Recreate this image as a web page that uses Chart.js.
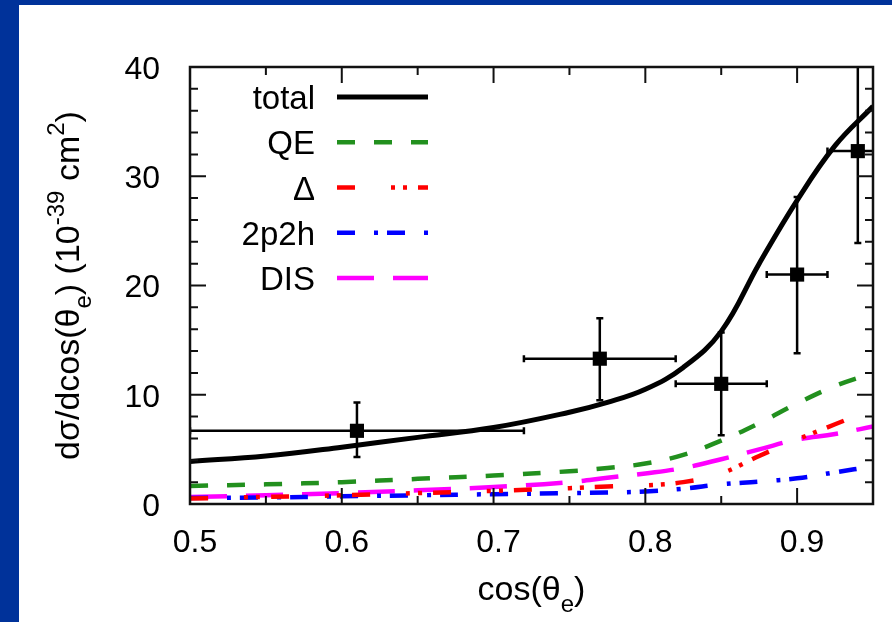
<!DOCTYPE html>
<html>
<head>
<meta charset="utf-8">
<script src="https://cdn.jsdelivr.net/npm/chart.js@4.4.1/dist/chart.umd.min.js"></script>
<style>
  html, body { margin: 0; padding: 0; }
  body { width: 892px; height: 622px; background: #00329a; position: relative; overflow: hidden; }
  .panel { position: absolute; left: 19px; top: 5px; right: 0; bottom: 0; background: #fff; }
  .chart-container { position: absolute; left: 0; top: 0; width: 892px; height: 622px; }
</style>
</head>
<body>
<div class="panel"></div>
<div class="chart-container"><canvas id="chart"></canvas></div>
<script>
const FONT = '"Liberation Sans", Arial, Helvetica, sans-serif';

// model curves, sampled in cos(theta_e)
const cosTheta = [0.5, 0.55, 0.6, 0.65, 0.7, 0.75, 0.775, 0.8, 0.825, 0.85, 0.875, 0.9, 0.925, 0.95];
const total    = [3.9, 4.4, 5.2, 6.1, 7.0, 8.4, 9.3, 10.5, 12.5, 15.8, 22.0, 27.8, 32.8, 36.4];
const qe       = [1.65, 1.8, 2.0, 2.3, 2.6, 3.0, 3.3, 3.7, 4.5, 5.8, 7.4, 9.2, 10.8, 12.0];
const delta    = [0.5, 0.65, 0.8, 1.0, 1.2, 1.45, 1.6, 1.7, 2.0, 2.8, 4.4, 5.9, 7.3, 8.7];
const twoP2h   = [0.55, 0.6, 0.7, 0.8, 0.9, 1.0, 1.05, 1.15, 1.4, 1.8, 2.05, 2.35, 2.9, 3.45];
const dis      = [0.65, 0.8, 1.0, 1.25, 1.55, 2.0, 2.4, 2.8, 3.3, 4.1, 5.0, 5.9, 6.4, 7.1];

// measured points with x/y error ranges
const dataX     = [0.61, 0.77, 0.85, 0.90, 0.94];
const dataY     = [6.7, 13.3, 11.0, 21.0, 32.3];
const dataXLow  = [0.50, 0.72, 0.82, 0.88, 0.92];
const dataXHigh = [0.72, 0.82, 0.88, 0.92, 0.96];
const dataYLow  = [4.3, 9.5, 6.3, 13.8, 23.9];
const dataYHigh = [9.3, 17.0, 15.7, 28.1, 41.0];

// axis ticks
const xTicks = [0.5, 0.6, 0.7, 0.8, 0.9];
const yTicks = [0, 10, 20, 30, 40];
const xMinorStep = 0.05;
const yMinorStep = 2;

const toXY = arr => cosTheta.map((x, i) => ({ x: x, y: arr[i] }));

function curve(label, values, color, width, dash) {
  return {
    label: label,
    data: toXY(values),
    borderColor: color,
    backgroundColor: color,
    borderWidth: width,
    borderDash: dash,
    borderCapStyle: 'butt',
    pointRadius: 0,
    tension: 0.4,
    clip: 0,
    fill: false
  };
}

// error bars under the square markers
const errorBars = {
  id: 'errorBars',
  beforeDatasetsDraw(chart) {
    const { ctx, chartArea: a, scales: { x, y } } = chart;
    const cap = 3.5;
    ctx.save();
    ctx.beginPath();
    ctx.rect(a.left, a.top, a.right - a.left, a.bottom - a.top);
    ctx.clip();
    ctx.strokeStyle = '#000';
    ctx.lineWidth = 2.5;
    dataX.forEach((v, i) => {
      const px = x.getPixelForValue(v);
      const py = y.getPixelForValue(dataY[i]);
      const x0 = x.getPixelForValue(dataXLow[i]);
      const x1 = x.getPixelForValue(dataXHigh[i]);
      const y0 = y.getPixelForValue(dataYLow[i]);
      const y1 = y.getPixelForValue(dataYHigh[i]);
      ctx.beginPath();
      ctx.moveTo(x0, py); ctx.lineTo(x1, py);
      ctx.moveTo(px, y0); ctx.lineTo(px, y1);
      ctx.moveTo(x0, py - cap); ctx.lineTo(x0, py + cap);
      ctx.moveTo(x1, py - cap); ctx.lineTo(x1, py + cap);
      ctx.moveTo(px - cap, y0); ctx.lineTo(px + cap, y0);
      ctx.moveTo(px - cap, y1); ctx.lineTo(px + cap, y1);
      ctx.stroke();
    });
    ctx.restore();
  }
};

// key in the upper left: label on the left, line sample on the right
const keyBox = {
  id: 'keyBox',
  afterDatasetsDraw(chart) {
    const { ctx, chartArea: a } = chart;
    ctx.save();
    ctx.font = '33px ' + FONT;
    ctx.textAlign = 'right';
    ctx.textBaseline = 'alphabetic';
    ctx.fillStyle = '#000';
    let row = 0;
    chart.data.datasets.forEach(ds => {
      if (ds.type === 'scatter') return;
      const yRow = a.top + 30 + row * 45.25;
      ctx.fillText(ds.label, a.left + 125, yRow + 12);
      ctx.strokeStyle = ds.borderColor;
      ctx.lineWidth = ds.borderWidth;
      ctx.setLineDash(ds.borderDash || []);
      ctx.lineCap = 'butt';
      ctx.beginPath();
      ctx.moveTo(a.left + 147, yRow);
      ctx.lineTo(a.left + 238, yRow);
      ctx.stroke();
      row++;
    });
    ctx.restore();
  }
};

// text with sub/superscripts, centred on cx
function drawRich(ctx, parts, cx, baseY, size) {
  const fontOf = p => (p.k ? Math.round(size * 0.7) : size) + 'px ' + FONT;
  let w = 0;
  parts.forEach(p => { ctx.font = fontOf(p); w += ctx.measureText(p.t).width; });
  let x = cx - w / 2;
  ctx.textAlign = 'left';
  ctx.textBaseline = 'alphabetic';
  parts.forEach(p => {
    ctx.font = fontOf(p);
    const dy = p.k === 'sub' ? size * 0.35 : p.k === 'sup' ? -size * 0.45 : 0;
    ctx.fillText(p.t, x, baseY + dy);
    x += ctx.measureText(p.t).width;
  });
}

// boxed frame with inward ticks on all sides, plus axis titles
const frame = {
  id: 'frame',
  afterDraw(chart) {
    const { ctx, chartArea: a, scales: { x, y } } = chart;
    ctx.save();
    ctx.strokeStyle = '#111';
    ctx.lineWidth = 2;
    ctx.beginPath();
    for (let v = x.min; v <= x.max + 1e-9; v += xMinorStep) {
      const major = xTicks.some(t => Math.abs(t - v) < 1e-6);
      const len = major ? 16 : 8;
      const px = x.getPixelForValue(v);
      ctx.moveTo(px, a.bottom); ctx.lineTo(px, a.bottom - len);
      ctx.moveTo(px, a.top); ctx.lineTo(px, a.top + len);
    }
    for (let v = y.min; v <= y.max + 1e-9; v += yMinorStep) {
      const major = yTicks.includes(v);
      const len = major ? 16 : 8;
      const py = y.getPixelForValue(v);
      ctx.moveTo(a.left, py); ctx.lineTo(a.left + len, py);
      ctx.moveTo(a.right, py); ctx.lineTo(a.right - len, py);
    }
    ctx.stroke();
    ctx.lineWidth = 2.5;
    ctx.strokeRect(a.left, a.top, a.right - a.left, a.bottom - a.top);

    ctx.fillStyle = '#000';
    drawRich(ctx, [{ t: 'cos(θ' }, { t: 'e', k: 'sub' }, { t: ')' }],
      (a.left + a.right) / 2, 600, 34);

    ctx.translate(79, (a.top + a.bottom) / 2);
    ctx.rotate(-Math.PI / 2);
    drawRich(ctx, [
      { t: 'dσ/dcos(θ' }, { t: 'e', k: 'sub' }, { t: ') (10' },
      { t: '-39', k: 'sup' }, { t: ' cm' }, { t: '2', k: 'sup' }, { t: ')' }
    ], 0, 0, 34);
    ctx.restore();
  }
};

const ctx = document.getElementById('chart').getContext('2d');

new Chart(ctx, {
  type: 'line',
  data: {
    datasets: [
      curve('total', total, '#000000', 5, []),
      curve('QE', qe, '#22901e', 4.5, [18, 19]),
      curve('Δ', delta, '#ff0000', 4.5, [18, 36, 4, 8, 4, 11]),
      curve('2p2h', twoP2h, '#0000ff', 4.5, [18, 19, 4, 9]),
      curve('DIS', dis, '#ff00ff', 4.5, [37, 19]),
      {
        type: 'scatter',
        label: 'data',
        data: dataX.map((x, i) => ({ x: x, y: dataY[i] })),
        pointStyle: 'rect',
        pointRadius: 10,
        pointBackgroundColor: '#000',
        pointBorderColor: '#000',
        pointBorderWidth: 0,
        clip: 0
      }
    ]
  },
  options: {
    responsive: true,
    maintainAspectRatio: false,
    animation: false,
    events: [],
    layout: { padding: { left: 0, top: 67, right: 19, bottom: 0 } },
    plugins: {
      legend: { display: false },
      tooltip: { enabled: false }
    },
    scales: {
      x: {
        type: 'linear',
        min: 0.5,
        max: 0.95,
        grid: { display: false },
        border: { display: false },
        afterBuildTicks: s => { s.ticks = xTicks.map(v => ({ value: v })); },
        afterFit: s => { s.height = 118; },
        ticks: {
          autoSkip: false,
          maxRotation: 0,
          padding: 12,
          labelOffset: 5,
          color: '#000',
          font: { size: 32, family: FONT },
          callback: v => v.toFixed(1)
        }
      },
      y: {
        type: 'linear',
        min: 0,
        max: 40,
        grid: { display: false },
        border: { display: false },
        afterBuildTicks: s => { s.ticks = yTicks.map(v => ({ value: v })); },
        afterFit: s => { s.width = 190; },
        ticks: {
          autoSkip: false,
          padding: 22,
          labelOffset: 3,
          color: '#000',
          font: { size: 32, family: FONT },
          callback: v => String(v)
        }
      }
    }
  },
  plugins: [errorBars, keyBox, frame]
});
</script>
</body>
</html>
